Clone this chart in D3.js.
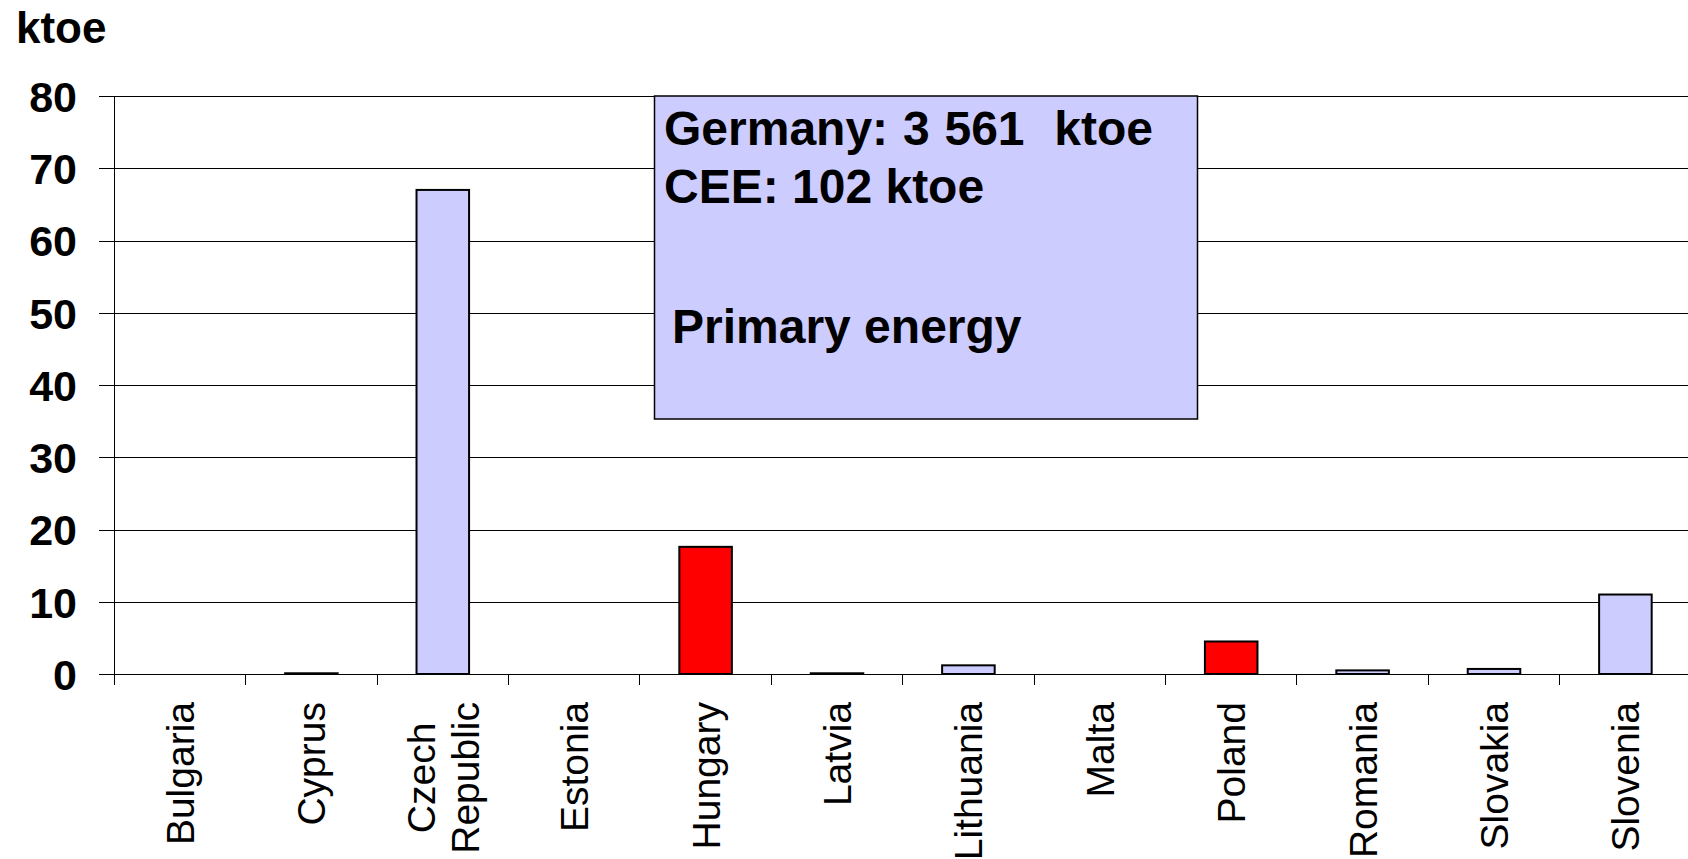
<!DOCTYPE html>
<html>
<head>
<meta charset="utf-8">
<script src="https://cdn.jsdelivr.net/npm/d3@7"></script>
<style>
  html, body { margin: 0; padding: 0; background: white; overflow: hidden; }
  svg { display: block; }
</style>
</head>
<body>
<script>
// DATA
var countries = ["Bulgaria", "Cyprus", "Czech Republic", "Estonia", "Hungary", "Latvia",
                 "Lithuania", "Malta", "Poland", "Romania", "Slovakia", "Slovenia"];
var values = [0, 0.1, 67, 0, 17.6, 0.1, 1.2, 0, 4.5, 0.5, 0.7, 11];
var highlighted = ["Hungary", "Poland"];
var yTicks = [0, 10, 20, 30, 40, 50, 60, 70, 80];
var noteLines = ["Germany: 3 561  ktoe", "CEE: 102 ktoe", "Primary energy"];

var width = 1688, height = 859;
var font = "'Liberation Sans', Arial, Helvetica, sans-serif";

var left = 114.3, step = 131.4;
var right = left + countries.length * step;

var svg = d3.select("body").append("svg")
    .attr("width", width).attr("height", height)
    .style("background", "white");

var x = d3.scaleBand()
    .domain(countries)
    .range([left, right])
    .paddingInner(0.6)
    .paddingOuter(0.3);

var y = d3.scaleLinear()
    .domain([0, 80])
    .range([674, 96]);

// gridlines + y labels
var yAxis = svg.append("g")
    .attr("transform", "translate(99,0)")
    .call(d3.axisLeft(y).tickValues(yTicks).tickSize(-(right - 99)).tickPadding(22));
yAxis.select(".domain").remove();
yAxis.selectAll(".tick line").attr("stroke", "#000").attr("shape-rendering", "crispEdges");
yAxis.selectAll(".tick text")
    .style("font", "bold 43px " + font)
    .attr("fill", "#000")
    .attr("dy", "0.36em");

// y axis line
svg.append("line")
    .attr("x1", left).attr("x2", left)
    .attr("y1", y(80)).attr("y2", y(0) + 11)
    .attr("stroke", "#000").attr("shape-rendering", "crispEdges");

// category boundary ticks
svg.append("g").selectAll("line")
    .data(d3.range(1, countries.length + 1))
    .enter().append("line")
    .attr("x1", i => left + i * x.step()).attr("x2", i => left + i * x.step())
    .attr("y1", y(0)).attr("y2", y(0) + 11)
    .attr("stroke", "#000").attr("shape-rendering", "crispEdges");

// bars
svg.append("g").selectAll("rect")
    .data(countries.map((c, i) => ({name: c, value: values[i]})).filter(d => d.value > 0))
    .enter().append("rect")
    .attr("x", d => x(d.name))
    .attr("width", x.bandwidth())
    .attr("y", d => y(d.value))
    .attr("height", d => y(0) - y(d.value))
    .attr("fill", d => highlighted.includes(d.name) ? "#ff0000" : "#ccccff")
    .attr("stroke", "#000")
    .attr("stroke-width", 2);

// x labels, rotated, top aligned, lines centred
var labelTop = 702;
countries.forEach(function(c) {
    var lines = c.split(" ");
    var g = svg.append("g")
        .attr("transform", "translate(" + (x(c) + x.bandwidth() / 2) + "," + labelTop + ") rotate(-90)");
    var texts = lines.map(function(l, j) {
        return g.append("text")
            .attr("y", (j - (lines.length - 1) / 2) * 44)
            .attr("dy", "0.36em")
            .attr("text-anchor", "middle")
            .style("font", "39px " + font)
            .attr("fill", "#000")
            .text(l);
    });
    var maxLen = d3.max(texts, t => t.node().getComputedTextLength());
    texts.forEach(t => t.attr("x", -maxLen / 2));
});

// y unit label
svg.append("text")
    .attr("x", 16).attr("y", 43)
    .style("font", "bold 44px " + font)
    .attr("fill", "#000")
    .text("ktoe");

// annotation box
svg.append("rect")
    .attr("x", 654.5).attr("y", y(80))
    .attr("width", 543).attr("height", 323)
    .attr("fill", "#ccccff")
    .attr("stroke", "#000")
    .attr("stroke-width", 1.5);

var noteY = [145, 203, 343];
var noteX = [664, 664, 672];
svg.append("g").selectAll("text")
    .data(noteLines)
    .enter().append("text")
    .attr("x", (d, i) => noteX[i])
    .attr("y", (d, i) => noteY[i])
    .style("font", "bold 48px " + font)
    .style("white-space", "pre")
    .style("word-spacing", (d, i) => i === 0 ? "1.5px" : "0px")
    .attr("fill", "#000")
    .text(d => d);
</script>
</body>
</html>
